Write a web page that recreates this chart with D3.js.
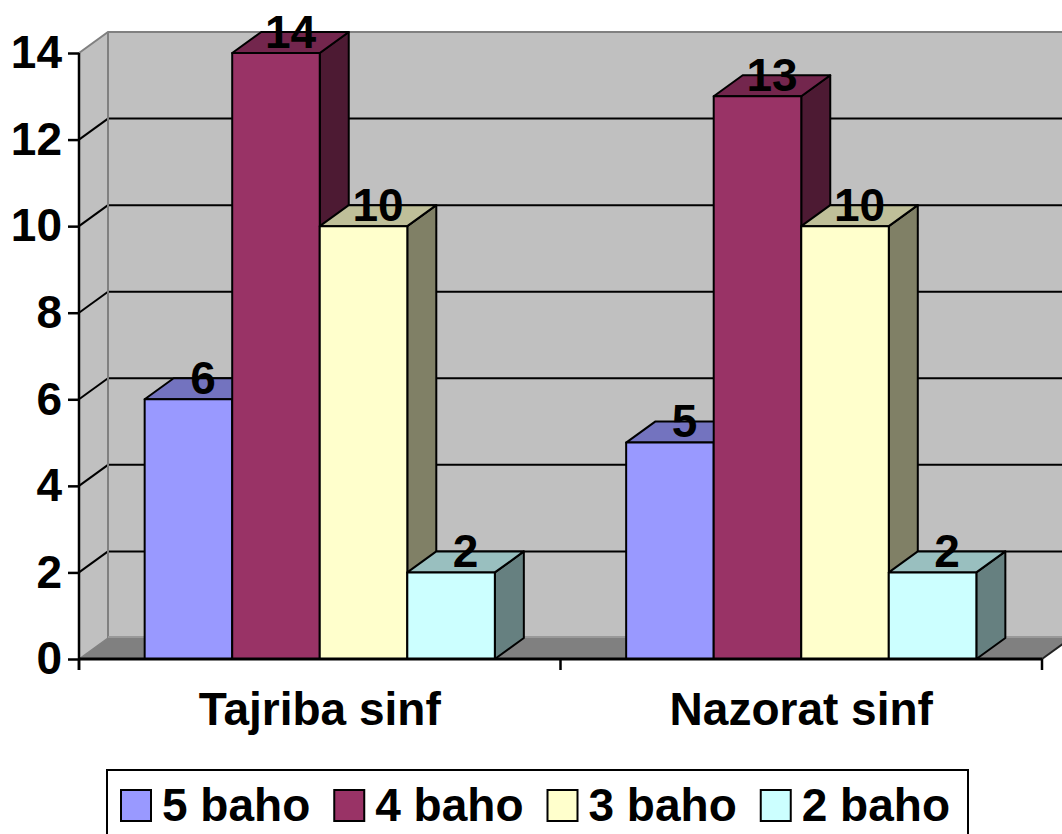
<!DOCTYPE html>
<html>
<head>
<meta charset="utf-8">
<script src="https://cdn.jsdelivr.net/npm/d3@7"></script>
<style>
  body { margin: 0; background: #fff; }
  text { font-family: "Liberation Sans", Arial, sans-serif; font-weight: bold; }
</style>
</head>
<body>
<script>
// chart data
var categories = ["Tajriba sinf", "Nazorat sinf"];
var seriesNames = ["5 baho", "4 baho", "3 baho", "2 baho"];
var baho5 = [6, 5];
var baho4 = [14, 13];
var baho3 = [10, 10];
var baho2 = [2, 2];
var yTicks = [0, 2, 4, 6, 8, 10, 12, 14];
var colors = ["#9999FF", "#993366", "#FFFFCC", "#CCFFFF"];

var seriesValues = [baho5, baho4, baho3, baho2];

w = 1062;
h = 834;
var dx = 29, dy = -21; // 3d depth offset

var svg = d3.select("body")
	.append("svg")
	.attr("width", w)
	.attr("height", h);

var yScale = d3.scaleLinear()
	.domain([0, 14])
	.range([659, 53]);

var x0 = d3.scaleBand()
	.domain(categories)
	.range([79, 1042]);

var x1 = d3.scaleBand()
	.domain(seriesNames)
	.range([0, x0.bandwidth()])
	.paddingInner(0)
	.paddingOuter(0.75);

var y0 = yScale(0), yTop = yScale(14);
var xL = x0.range()[0], xR = x0.range()[1];

// walls
var walls = svg.append("g");
// back wall
walls.append("rect")
	.attr("x", xL + dx).attr("y", yTop + dy)
	.attr("width", w - xL - dx + 20).attr("height", y0 - yTop)
	.attr("fill", "#C0C0C0");
// side wall
walls.append("path")
	.attr("d", "M" + xL + "," + yTop + "L" + (xL + dx) + "," + (yTop + dy) +
		"L" + (xL + dx) + "," + (y0 + dy) + "L" + xL + "," + y0 + "Z")
	.attr("fill", "#C0C0C0");
// floor
walls.append("path")
	.attr("d", "M" + xL + "," + y0 + "L" + (xL + dx) + "," + (y0 + dy) +
		"L" + (xR + dx) + "," + (y0 + dy) + "L" + xR + "," + y0 + "Z")
	.attr("fill", "#808080");

// gridlines
var grid = yTicks.filter(function(d) { return d > 0 && d < 14; });
walls.selectAll(".gback")
	.data(grid)
	.enter()
	.append("line")
	.attr("x1", xL + dx).attr("x2", w + 5)
	.attr("y1", function(d) { return yScale(d) + dy; })
	.attr("y2", function(d) { return yScale(d) + dy; })
	.attr("stroke", "#000").attr("stroke-width", 2);
walls.selectAll(".gside")
	.data(grid)
	.enter()
	.append("line")
	.attr("x1", xL).attr("x2", xL + dx)
	.attr("y1", function(d) { return yScale(d); })
	.attr("y2", function(d) { return yScale(d) + dy; })
	.attr("stroke", "#000").attr("stroke-width", 2);

// wall edges
var edge = "#808080";
walls.append("path")
	.attr("d", "M" + xL + "," + yTop + "L" + (xL + dx) + "," + (yTop + dy) + "L" + (w + 5) + "," + (yTop + dy))
	.attr("fill", "none").attr("stroke", edge).attr("stroke-width", 2);
walls.append("line")
	.attr("x1", xL + dx).attr("x2", xL + dx)
	.attr("y1", yTop + dy).attr("y2", y0 + dy)
	.attr("stroke", edge).attr("stroke-width", 2);
walls.append("line")
	.attr("x1", xL + dx).attr("x2", w + 5)
	.attr("y1", y0 + dy - 1).attr("y2", y0 + dy - 1)
	.attr("stroke", "#999").attr("stroke-width", 2);
walls.append("line")
	.attr("x1", xL).attr("x2", xL + dx)
	.attr("y1", y0).attr("y2", y0 + dy)
	.attr("stroke", edge).attr("stroke-width", 1.5);
walls.append("line")
	.attr("x1", xR).attr("x2", xR + dx)
	.attr("y1", y0).attr("y2", y0 + dy)
	.attr("stroke", "#222").attr("stroke-width", 2);

// bars
var bars = [];
categories.forEach(function(c, ci) {
	seriesNames.forEach(function(s, si) {
		bars.push({ cat: c, series: s, value: seriesValues[si][ci], color: colors[si] });
	});
});

function shade(col, k) {
	var c = d3.rgb(col);
	return d3.rgb(c.r * k, c.g * k, c.b * k).toString();
}

var barG = svg.append("g");
bars.forEach(function(d) {
	var x = x0(d.cat) + x1(d.series);
	var bw = x1.bandwidth();
	var yt = yScale(d.value);
	var g = barG.append("g")
		.attr("stroke", "#000")
		.attr("stroke-width", 2)
		.attr("stroke-linejoin", "round");
	// side face
	g.append("path")
		.attr("d", "M" + (x + bw) + "," + yt + "L" + (x + bw + dx) + "," + (yt + dy) +
			"L" + (x + bw + dx) + "," + (y0 + dy) + "L" + (x + bw) + "," + y0 + "Z")
		.attr("fill", shade(d.color, 0.5));
	// top face
	g.append("path")
		.attr("d", "M" + x + "," + yt + "L" + (x + dx) + "," + (yt + dy) +
			"L" + (x + bw + dx) + "," + (yt + dy) + "L" + (x + bw) + "," + yt + "Z")
		.attr("fill", shade(d.color, 0.75));
	// front face
	g.append("rect")
		.attr("x", x).attr("y", yt)
		.attr("width", bw).attr("height", y0 - yt)
		.attr("fill", d.color);
});

// value labels
svg.selectAll(".val")
	.data(bars)
	.enter()
	.append("text")
	.attr("class", "val")
	.attr("text-anchor", "middle")
	.attr("font-size", "46px")
	.attr("x", function(d) { return x0(d.cat) + x1(d.series) + x1.bandwidth() / 2 + dx / 2; })
	.attr("y", function(d) { return yScale(d.value) + dy / 2 + 5; })
	.text(function(d) { return d.value; });

// y axis
var yAxis = d3.axisLeft(yScale)
	.tickValues(yTicks)
	.tickSize(11)
	.tickPadding(6);
var ya = svg.append("g")
	.attr("transform", "translate(" + xL + ",0)")
	.call(yAxis);
ya.select(".domain").attr("stroke-width", 2.5).attr("d", "M0," + yTop + "V" + (y0 + 11));
ya.selectAll(".tick line").attr("stroke-width", 2.5);
ya.selectAll(".tick text")
	.attr("font-size", "46px")
	.attr("font-family", "'Liberation Sans', Arial, sans-serif")
	.attr("font-weight", "bold")
	.attr("fill", "#000");

// x axis
svg.append("line")
	.attr("x1", xL).attr("x2", xR)
	.attr("y1", y0).attr("y2", y0)
	.attr("stroke", "#000").attr("stroke-width", 3);
var bounds = categories.map(function(c) { return x0(c); }).concat([xR]);
svg.selectAll(".xtick")
	.data(bounds)
	.enter()
	.append("line")
	.attr("x1", function(d) { return d; })
	.attr("x2", function(d) { return d; })
	.attr("y1", y0).attr("y2", y0 + 11)
	.attr("stroke", "#000").attr("stroke-width", 2.5);
svg.selectAll(".xlab")
	.data(categories)
	.enter()
	.append("text")
	.attr("text-anchor", "middle")
	.attr("font-size", "46px")
	.attr("x", function(d) { return x0(d) + x0.bandwidth() / 2; })
	.attr("y", 725)
	.text(function(d) { return d; });

// legend
var legend = svg.append("g");
legend.append("rect")
	.attr("x", 107).attr("y", 770)
	.attr("width", 861).attr("height", 90)
	.attr("fill", "#fff").attr("stroke", "#000").attr("stroke-width", 2);
var lx = 121;
seriesNames.forEach(function(s, i) {
	legend.append("rect")
		.attr("x", lx).attr("y", 790)
		.attr("width", 30).attr("height", 31)
		.attr("fill", colors[i]).attr("stroke", "#000").attr("stroke-width", 2);
	var t = legend.append("text")
		.attr("x", lx + 41).attr("y", 821)
		.attr("font-size", "46px")
		.text(s);
	lx += 41 + t.node().getComputedTextLength() + 24;
});
</script>
</body>
</html>
